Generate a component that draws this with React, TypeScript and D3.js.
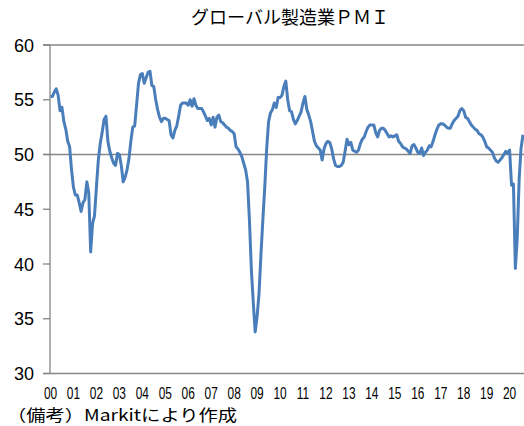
import React from "react";
import * as d3 from "d3";

const yearLabels = [
  "00", "01", "02", "03", "04", "05", "06", "07", "08", "09", "10",
  "11", "12", "13", "14", "15", "16", "17", "18", "19", "20",
];
const yTicks = [30, 35, 40, 45, 50, 55, 60];
const gridValues = [50, 60];

// グローバル製造業PMI 月次 2000/01 - 2020/08
const pmi: number[] = [
  55.3, 55.3, 55.7, 56.0, 55.4, 54.0, 54.3, 53.0, 52.3, 51.2, 50.7, 48.6,
  47.0, 46.3, 46.3, 45.6, 44.8, 45.6, 45.9, 47.5, 46.5, 41.1, 43.7, 44.4,
  47.0, 49.5, 51.0, 52.0, 53.2, 53.5, 51.2, 50.3, 49.7, 49.2, 49.0, 50.1,
  50.0, 49.0, 47.5, 47.9, 48.6, 49.6, 51.2, 52.5, 52.6, 54.5, 56.5, 57.3,
  57.4, 56.5, 57.0, 57.5, 57.6, 56.3, 56.2, 55.0, 54.1, 53.4, 53.0, 53.3,
  53.3, 53.2, 53.1, 51.8, 51.5, 52.2, 52.6, 53.5, 54.5, 54.7, 54.7, 54.7,
  54.5, 55.0, 54.4, 55.1, 54.5, 54.2, 54.2, 54.2, 53.9, 53.5, 53.1, 53.3,
  52.7, 53.4, 52.5, 53.4, 53.6, 53.0, 52.9, 52.7, 52.5, 52.4, 52.2, 52.1,
  51.9, 50.7, 50.5, 50.2, 49.8, 49.2, 48.6, 47.5, 44.0, 39.5, 36.5, 33.8,
  35.2, 37.3, 40.8, 44.0, 47.0, 50.5, 53.0, 53.8, 54.1, 54.7, 54.3, 55.2,
  55.2, 55.4, 56.2, 56.7, 55.0, 54.0, 53.9, 53.2, 52.8, 53.1, 53.5, 53.9,
  54.7, 55.3, 54.1, 53.6, 53.0, 52.1, 51.2, 50.8, 50.6, 50.4, 49.5, 50.5,
  51.0, 51.2, 51.1, 50.5, 49.6, 49.0, 48.9, 48.9, 49.0, 49.3, 50.3, 51.4,
  50.9, 51.1, 50.4, 50.3, 50.2, 50.4, 51.0, 51.4, 51.6, 52.1, 52.5, 52.7,
  52.7, 52.7, 52.0, 51.6, 52.2, 52.4, 52.4, 52.2, 51.9, 51.6, 51.7, 51.6,
  51.7, 51.8, 51.2, 51.0, 50.7, 50.6, 50.5, 50.3, 50.1, 50.8, 50.9, 50.6,
  50.2, 50.1, 50.6, 49.9, 50.2, 50.4, 50.8, 50.7, 51.2, 51.8, 52.3, 52.7,
  52.8, 52.8, 52.7, 52.5, 52.4, 52.4, 52.8, 53.1, 53.3, 53.5, 54.0, 54.2,
  54.0, 53.4, 53.3, 53.0, 52.7, 52.5, 52.3, 52.2, 51.9, 51.8, 51.6, 51.2,
  50.7, 50.6, 50.4, 50.2, 49.7, 49.4, 49.3, 49.5, 49.7, 50.0, 50.3, 50.1,
  50.4, 47.2, 47.3, 39.6, 42.4, 47.8, 50.6, 51.8,
];

const W = 524;
const H = 426;
const left = 50;
const top = 45;
const bottom = 373.5;
const axisColor = "#868686";
const jpFont = "'Noto Sans CJK JP', sans-serif";
const numFont = "'Liberation Sans', Arial, sans-serif";

export default function App() {
  const x = d3.scaleLinear().domain([0, pmi.length - 1]).range([50.5, 523]);
  const y = d3.scaleLinear().domain([30, 60]).range([bottom, top]);

  const line = d3
    .line<number>()
    .x((_, i) => x(i))
    .y((d) => y(d));

  return (
    <svg
      width={W}
      height={H}
      style={{ position: "absolute", left: 0, top: 0, background: "#fff" }}
    >
      <text
        x={290}
        y={24}
        textAnchor="middle"
        fontFamily={jpFont}
        fontSize={18}
        fill="#000"
      >
        グローバル製造業ＰＭＩ
      </text>

      {/* 目盛線 */}
      {gridValues.map((v) => (
        <line
          key={v}
          x1={43}
          x2={W}
          y1={y(v)}
          y2={y(v)}
          stroke={axisColor}
          strokeWidth={1.3}
        />
      ))}

      {/* Y軸 */}
      <line x1={left} x2={left} y1={top} y2={bottom} stroke={axisColor} strokeWidth={1.3} />
      <line x1={43} x2={W} y1={bottom} y2={bottom} stroke={axisColor} strokeWidth={1.3} />
      {yTicks.map((t) => (
        <g key={t}>
          <line x1={43} x2={left} y1={y(t)} y2={y(t)} stroke={axisColor} strokeWidth={1.3} />
          <text
            x={34}
            y={y(t) + 6.5}
            textAnchor="end"
            fontFamily={numFont}
            fontSize={18}
            fill="#000"
          >
            {t}
          </text>
        </g>
      ))}

      {/* X軸ラベル（詰め書き） */}
      {yearLabels.map((lab, i) => (
        <text
          key={lab}
          transform={`translate(${x(i * 12)},399) scale(0.7,1)`}
          textAnchor="middle"
          fontFamily={numFont}
          fontSize={17}
          fill="#000"
        >
          {lab}
        </text>
      ))}

      <path
        d={line(pmi) ?? ""}
        fill="none"
        stroke="#4A7EBB"
        strokeWidth={3}
        strokeLinejoin="round"
      />

      <text
        x={7}
        y={421}
        fontFamily={jpFont}
        fontSize={16}
        textLength={230}
        lengthAdjust="spacingAndGlyphs"
        fill="#000"
      >
        （備考）Markitにより作成
      </text>
    </svg>
  );
}
